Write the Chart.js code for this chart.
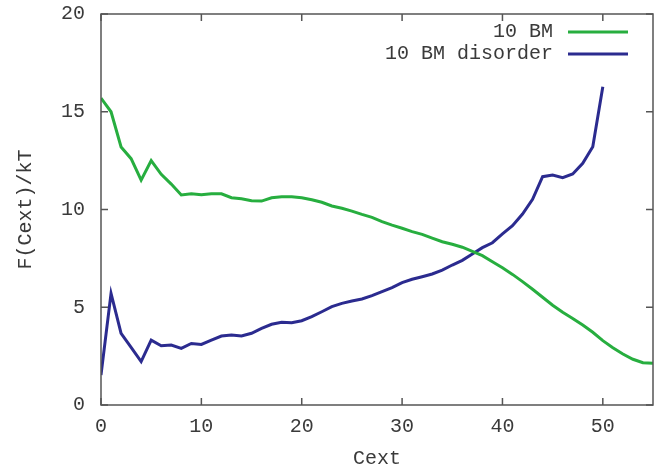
<!DOCTYPE html>
<html>
<head>
<meta charset="utf-8">
<script src="https://cdn.jsdelivr.net/npm/chart.js@4/dist/chart.umd.min.js"></script>
<style>
  html, body { margin: 0; padding: 0; background: #fff; }
  #wrap { width: 656px; height: 471px; }
</style>
</head>
<body>
<div id="wrap"><canvas id="chart" width="656" height="471"></canvas></div>
<script>
// data
const cext = [0, 1, 2, 3, 4, 5, 6, 7, 8, 9, 10, 11, 12, 13, 14, 15, 16, 17, 18, 19,
              20, 21, 22, 23, 24, 25, 26, 27, 28, 29, 30, 31, 32, 33, 34, 35, 36, 37, 38, 39,
              40, 41, 42, 43, 44, 45, 46, 47, 48, 49, 50, 51, 52, 53, 54, 55];

const bm = [15.7, 15.0, 13.2, 12.6, 11.5, 12.5, 11.8, 11.3, 10.74, 10.8,
            10.75, 10.8, 10.8, 10.6, 10.55, 10.45, 10.43, 10.6, 10.65, 10.65,
            10.6, 10.5, 10.37, 10.18, 10.06, 9.92, 9.75, 9.6, 9.38, 9.2,
            9.04, 8.87, 8.73, 8.54, 8.35, 8.22, 8.07, 7.86, 7.64, 7.33,
            7.02, 6.68, 6.31, 5.92, 5.51, 5.1, 4.74, 4.43, 4.09, 3.72,
            3.29, 2.93, 2.61, 2.34, 2.16, 2.13];

const bmDisorder = [1.53, 5.71, 3.67, 2.95, 2.22, 3.32, 3.03, 3.07, 2.9, 3.15,
                    3.1, 3.32, 3.53, 3.58, 3.53, 3.67, 3.92, 4.13, 4.23, 4.21,
                    4.31, 4.52, 4.77, 5.03, 5.2, 5.32, 5.42, 5.59, 5.8, 6.0,
                    6.26, 6.43, 6.56, 6.7, 6.9, 7.16, 7.4, 7.72, 8.05, 8.3,
                    8.75, 9.17, 9.77, 10.52, 11.68, 11.76, 11.63, 11.82, 12.36, 13.21,
                    16.28];

const seriesNames = ["10 BM", "10 BM disorder"];
const xTicks = [0, 10, 20, 30, 40, 50];
const yTicks = [0, 5, 10, 15, 20];

const GREEN = "#27ae3f";
const BLUE = "#2b2b8f";
const TEXT = "#3a3a3a";
const FONT = "'Liberation Mono', 'DejaVu Sans Mono', monospace";

function toPoints(ys)
{
    return ys.map((y, i) => ({ x: cext[i], y: y }));
}

// gnuplot style frame: border box, inward ticks on all four sides, legend top right
const framePlugin = {
    id: "frame",
    afterDraw(chart)
    {
        const ctx = chart.ctx;
        const a = chart.chartArea;
        const xs = chart.scales.x, ys = chart.scales.y;
        const len = 7;
        ctx.save();
        ctx.strokeStyle = "#555";
        ctx.lineWidth = 1.5;
        ctx.strokeRect(a.left, a.top, a.right - a.left, a.bottom - a.top);
        ctx.beginPath();
        xTicks.forEach(v => {
            const px = xs.getPixelForValue(v);
            ctx.moveTo(px, a.bottom); ctx.lineTo(px, a.bottom - len);
            ctx.moveTo(px, a.top);    ctx.lineTo(px, a.top + len);
        });
        yTicks.forEach(v => {
            const py = ys.getPixelForValue(v);
            ctx.moveTo(a.left, py);  ctx.lineTo(a.left + len, py);
            ctx.moveTo(a.right, py); ctx.lineTo(a.right - len, py);
        });
        ctx.stroke();

        // legend
        ctx.font = "20px " + FONT;
        ctx.textAlign = "right";
        ctx.textBaseline = "middle";
        const rows = [32, 54];
        chart.data.datasets.forEach((ds, i) => {
            ctx.fillStyle = TEXT;
            ctx.fillText(ds.label, 553, rows[i]);
            ctx.strokeStyle = ds.borderColor;
            ctx.lineWidth = 3;
            ctx.beginPath();
            ctx.moveTo(568, rows[i]);
            ctx.lineTo(628, rows[i]);
            ctx.stroke();
        });
        ctx.restore();
    }
};

document.addEventListener("DOMContentLoaded", e =>
{
    const context = document.getElementById("chart").getContext("2d");

    new Chart(context,
    {
        type: "line",
        data:
        {
            datasets:
            [{
                label: seriesNames[0],
                data: toPoints(bm),
                borderColor: GREEN,
                borderWidth: 3,
                pointRadius: 0,
                tension: 0,
                fill: false
            },
            {
                label: seriesNames[1],
                data: toPoints(bmDisorder),
                borderColor: BLUE,
                borderWidth: 3,
                pointRadius: 0,
                tension: 0,
                fill: false
            }]
        },
        options:
        {
            responsive: false,
            animation: false,
            layout: { padding: { top: 14, right: 3, left: 0, bottom: 0 } },
            plugins:
            {
                legend: { display: false },
                tooltip: { enabled: false }
            },
            scales:
            {
                x:
                {
                    type: "linear",
                    min: 0,
                    max: 55,
                    afterBuildTicks: s => { s.ticks = xTicks.map(v => ({ value: v })); },
                    afterFit: s => { s.height = 66; s.paddingLeft = 0; s.paddingRight = 0; },
                    grid: { display: false, drawTicks: false },
                    border: { display: false },
                    ticks: { color: TEXT, padding: 10, maxRotation: 0, font: { family: FONT, size: 20 } },
                    title: { display: true, text: "Cext", color: TEXT, padding: { top: 12, bottom: 0 }, font: { family: FONT, size: 20 } }
                },
                y:
                {
                    min: 0,
                    max: 20,
                    afterBuildTicks: s => { s.ticks = yTicks.map(v => ({ value: v })); },
                    afterFit: s => { s.width = 101; s.paddingTop = 0; s.paddingBottom = 0; },
                    grid: { display: false, drawTicks: false },
                    border: { display: false },
                    ticks: { color: TEXT, padding: 16, font: { family: FONT, size: 20 } },
                    title: { display: true, text: "F(Cext)/kT", color: TEXT, padding: { top: 14, bottom: 12 }, font: { family: FONT, size: 20 } }
                }
            }
        },
        plugins: [framePlugin]
    });
});
</script>
</body>
</html>
